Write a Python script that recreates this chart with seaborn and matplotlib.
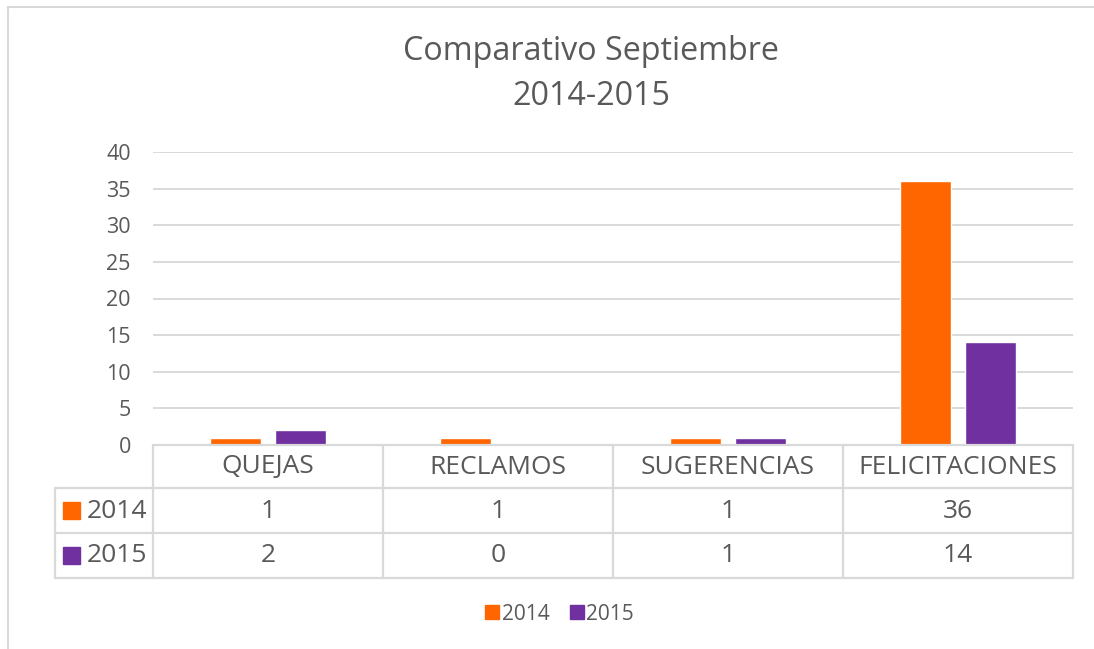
import matplotlib
matplotlib.use("Agg")
import matplotlib.pyplot as plt
import matplotlib.transforms as mtransforms
from matplotlib.patches import Rectangle
from matplotlib.lines import Line2D
import pandas as pd
import seaborn as sns

# ─── Datos ────────────────────────────────────────────────────────────────────
CATEGORIAS = ["QUEJAS", "RECLAMOS", "SUGERENCIAS", "FELICITACIONES"]
ANIOS = ["2014", "2015"]
VALORES_2014 = [1, 1, 1, 36]
VALORES_2015 = [2, 0, 1, 14]
Y_TICKS = [0, 5, 10, 15, 20, 25, 30, 35, 40]
TITULO = "Comparativo Septiembre\n2014-2015"

COLORES = {"2014": "#FF6600", "2015": "#7030A0"}
GRIS_TEXTO = "#595959"
GRIS_LINEA = "#D9D9D9"

sns.set_theme(style="white")
plt.rcParams["font.family"] = ["Open Sans", "DejaVu Sans"]

df = pd.DataFrame({
    "categoria": CATEGORIAS * 2,
    "anio": [ANIOS[0]] * len(CATEGORIAS) + [ANIOS[1]] * len(CATEGORIAS),
    "valor": VALORES_2014 + VALORES_2015,
})

W, H = 1094, 649
fig = plt.figure(figsize=(W / 100, H / 100), dpi=100)
ax = fig.add_axes([153 / W, 1 - 445 / H, 920 / W, 293 / H])

sns.barplot(data=df, x="categoria", y="valor", hue="anio", order=CATEGORIAS,
            hue_order=ANIOS, palette=COLORES, width=0.57, gap=0.22,
            saturation=1, legend=False, ax=ax)

ax.set_xlim(-0.5, len(CATEGORIAS) - 0.5)
ax.set_ylim(Y_TICKS[0], Y_TICKS[-1])
ax.set_yticks(Y_TICKS)
ax.set_xticks([])
ax.set(xlabel="", ylabel="")
ax.yaxis.grid(True, color=GRIS_LINEA, lw=1.4)
ax.set_axisbelow(True)
for s in ax.spines.values():
    s.set_visible(False)
ax.tick_params(axis="y", length=0, pad=16, labelsize=15.5, labelcolor=GRIS_TEXTO)

# ─── Tabla de datos ───────────────────────────────────────────────────────────
tr = mtransforms.blended_transform_factory(ax.transData, fig.transFigure)
fy = lambda px: 1 - px / H
x0, x1 = -0.5, len(CATEGORIAS) - 0.5
lkw = dict(color=GRIS_LINEA, lw=1.6, clip_on=False)
TXT = 19

ax.add_line(Line2D([x0, x1], [fy(445), fy(445)], transform=tr, **lkw))
for ypx in (488, 533, 578):
    ax.add_line(Line2D([x0, x1], [fy(ypx), fy(ypx)], transform=tr, **lkw))
    fig.add_artist(Line2D([55 / W, 153 / W], [fy(ypx), fy(ypx)], **lkw))
for xb in range(len(CATEGORIAS) + 1):
    ax.add_line(Line2D([xb - 0.5, xb - 0.5], [fy(445), fy(578)], transform=tr, **lkw))
fig.add_artist(Line2D([55 / W, 55 / W], [fy(488), fy(578)], **lkw))

for i, cat in enumerate(CATEGORIAS):
    ax.text(i, fy(467), cat, transform=tr, ha="center", va="center",
            fontsize=TXT, color=GRIS_TEXTO)
    ax.text(i, fy(511), str(VALORES_2014[i]), transform=tr, ha="center",
            va="center", fontsize=TXT, color=GRIS_TEXTO)
    ax.text(i, fy(556), str(VALORES_2015[i]), transform=tr, ha="center",
            va="center", fontsize=TXT, color=GRIS_TEXTO)

for anio, ypx in zip(ANIOS, (511, 556)):
    fig.add_artist(Rectangle((63 / W, fy(ypx + 8)), 17 / W, 17 / H,
                             transform=fig.transFigure, color=COLORES[anio]))
    fig.text(87 / W, fy(ypx), anio, ha="left", va="center", fontsize=TXT,
             color=GRIS_TEXTO)

# ─── Leyenda, título y borde ──────────────────────────────────────────────────
handles = [Line2D([], [], marker="s", ls="", markersize=10,
                  markerfacecolor=COLORES[a], markeredgecolor=COLORES[a],
                  label=a) for a in ANIOS]
fig.legend(handles=handles, loc="center", bbox_to_anchor=(560 / W, fy(614)),
           ncol=2, frameon=False, fontsize=15, handlelength=0.6,
           handletextpad=0.15, columnspacing=1.0, labelcolor=GRIS_TEXTO)

fig.text(591 / W, fy(74), TITULO, ha="center", va="center", fontsize=23.2,
         color=GRIS_TEXTO, linespacing=1.45)

fig.add_artist(Rectangle((8 / W, -0.1), 1.2, fy(7) + 0.1, transform=fig.transFigure,
                         fill=False, ec=GRIS_LINEA, lw=1.5))

fig.savefig("out.png", dpi=100)
